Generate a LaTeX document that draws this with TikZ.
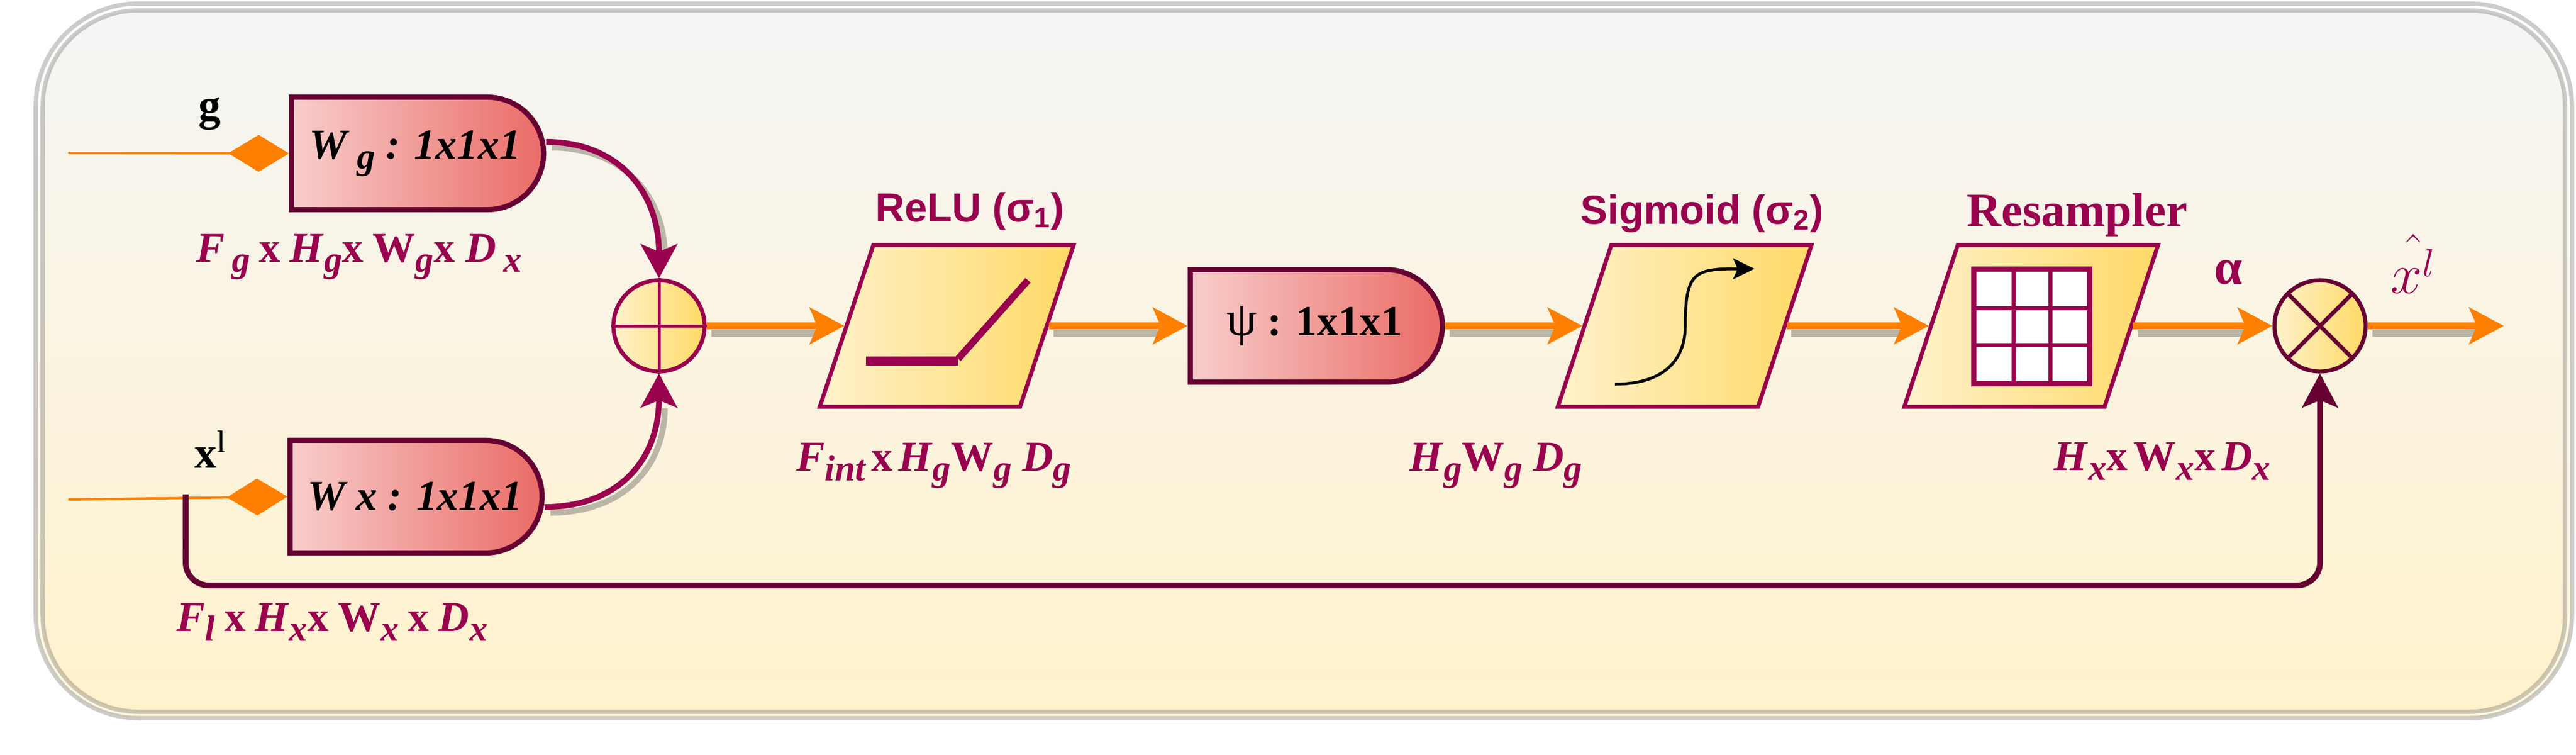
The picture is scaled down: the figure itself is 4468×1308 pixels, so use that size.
\documentclass[tikz,border=0pt]{standalone}
\usepackage{fontspec}
\usepackage{graphicx}
\setmainfont{Liberation Serif}
\setsansfont{Liberation Sans}
\usetikzlibrary{arrows.meta,shapes.misc,shapes.geometric}
\definecolor{gapfill}{HTML}{FFF8E2}
\definecolor{pagetop}{HTML}{F5F5F5}
\definecolor{pagebot}{HTML}{FFF2CC}
\definecolor{shadowgray}{HTML}{BAB6A8}
\definecolor{redlight}{HTML}{F8CECC}
\definecolor{reddeep}{HTML}{EA6B66}
\definecolor{yellowdeep}{HTML}{FFD966}
\definecolor{purplemain}{HTML}{99004D}
\definecolor{purpledark}{HTML}{660033}
\definecolor{flow}{HTML}{FF8000}
\newcommand{\sbs}[1]{\raisebox{-0.17cm}{\fontsize{18pt}{18pt}\selectfont\itshape #1}}
\newcommand{\gapx}{\hspace{0.16cm}}
\newcommand{\gapy}{\hspace{0.1cm}}
\tikzset{
  gatebox/.style={rounded rectangle,rounded rectangle west arc=none,draw=purpledark,line width=0.09cm,
    left color=redlight,right color=reddeep,minimum width=4.37cm,minimum height=1.95cm,inner sep=0pt,
    font=\fontsize{21pt}{25pt}\selectfont\bfseries},
  paragbox/.style={trapezium,trapezium left angle=70,trapezium right angle=110,trapezium stretches=true,
    draw=purplemain,line width=0.07cm,left color=pagebot,right color=yellowdeep,
    minimum width=4.4cm,minimum height=2.8cm,inner sep=2pt},
  opcircle/.style={circle,line width=0.07cm,left color=pagebot,right color=yellowdeep,
    minimum size=1.58cm,inner sep=0pt},
  flowline/.style={line width=0.12cm,draw=flow,-{Stealth[length=0.6cm,width=0.63cm,inset=0.13cm,flow]}},
  flowshadow/.style={line width=0.12cm,draw=shadowgray,shorten >=0.5cm,transform canvas={shift={(8,13)}}},
  gateline/.style={line width=0.1cm,draw=purplemain,-{Stealth[length=0.59cm,width=0.63cm,inset=0.13cm,purplemain]}},
  gateshadow/.style={line width=0.1cm,draw=shadowgray,shorten >=0.5cm,transform canvas={shift={(10,10)}}},
  inputline/.style={line width=0.04cm,line cap=round,draw=flow,-{Diamond[length=1.05cm,width=0.64cm,flow]}},
  lbltext/.style={text=purplemain,anchor=base west,inner sep=0pt,font=\fontsize{21pt}{24pt}\selectfont\bfseries},
  toptext/.style={text=purplemain,anchor=base west,inner sep=0pt,font=\fontsize{20pt}{24pt}\selectfont\bfseries\sffamily},
  sigtext/.style={text=black,anchor=base west,inner sep=0pt,font=\fontsize{22pt}{26pt}\selectfont\bfseries},
}
\begin{document}
\begin{tikzpicture}[x=0.01cm,y=-0.01cm]
\useasboundingbox (0,0) rectangle (4468,1308);

% Drawing frame
\draw [draw=black,draw opacity=0.2,line width=0.075cm,rounded corners=1.78cm,top color=white,bottom color=gapfill] (62,6) rectangle (4461,1245);
\draw [draw=black,draw opacity=0.2,line width=0.075cm,rounded corners=1.66cm,top color=pagetop,bottom color=pagebot] (74,18) rectangle (4449,1234);

% Drawing gates
\node [gatebox] (wg) at (720,266) {\textit{W}\,\sbs{g} \textit{: 1x1x1}};
\node [gatebox] (wx) at (720,861) {\textit{W x : 1x1x1}};
\node [gatebox] (psi) at (2280,565) {{\fontsize{24pt}{25pt}\selectfont\mdseries ψ} : 1x1x1};

% Drawing operators
\node [opcircle,draw=purplemain] (add) at (1143,565) {};
\node [opcircle,draw=purpledark] (mul) at (4024,565) {};
\draw [line width=0.05cm,draw=purplemain] (add.north) -- (add.south);
\draw [line width=0.05cm,draw=purplemain] (add.west) -- (add.east);
\draw [line width=0.07cm,draw=purpledark] (mul.north west) -- (mul.south east);
\draw [line width=0.07cm,draw=purpledark] (mul.north east) -- (mul.south west);

% Drawing activation blocks
\node [paragbox] (relu) at (1642,565) {};
\node [paragbox] (sigm) at (2922,565) {};
\node [paragbox] (resamp) at (3523,565) {};

% Drawing relu curve
\draw [line width=0.16cm,draw=purplemain] (1502,626) -- (1662,626);
\draw [line width=0.12cm,draw=purplemain] (1662,622) -- (1783,486);

% Drawing sigmoid curve
\draw [line width=0.05cm,-{Stealth[length=0.37cm,width=0.36cm,inset=0.08cm]}] (2801,666) .. controls (2890,666) and (2923,620) .. (2923,566) .. controls (2923,470) and (2940,466) .. (3043,466);

% Drawing resampler grid
\draw [line width=0.09cm,draw=purplemain,fill=white] (3423,466) rectangle (3624,665);
\draw [line width=0.07cm,draw=purplemain] (3492,466) -- (3492,665);
\draw [line width=0.07cm,draw=purplemain] (3556,466) -- (3556,665);
\draw [line width=0.07cm,draw=purplemain] (3423,534) -- (3624,534);
\draw [line width=0.07cm,draw=purplemain] (3423,598) -- (3624,598);

% Drawing inputs
\coordinate (gin) at (120,265);
\coordinate (xin) at (120,866);
\draw [inputline] (gin) -- (wg.west);
\draw [inputline] (xin) -- (wx.west);

% Drawing gate connectors
\draw [gateshadow] ([yshift=0.2cm]wg.east) .. controls (1070,246) and (1143,330) .. (add.north);
\draw [gateshadow] ([yshift=-0.18cm]wx.east) .. controls (1070,879) and (1143,800) .. (add.south);
\draw [gateline] ([yshift=0.2cm]wg.east) .. controls (1070,246) and (1143,330) .. (add.north);
\draw [gateline] ([yshift=-0.18cm]wx.east) .. controls (1070,879) and (1143,800) .. (add.south);

% Drawing flow arrows
\coordinate (out) at (4343,565);
\draw [flowshadow] (add) -- (relu);
\draw [flowshadow] (relu) -- (psi);
\draw [flowshadow] (psi) -- (sigm);
\draw [flowshadow] (sigm) -- (resamp);
\draw [flowshadow] (resamp) -- (mul);
\draw [flowshadow] (mul) -- (out);
\draw [flowline] (add) -- (relu);
\draw [flowline] (relu) -- (psi);
\draw [flowline] (psi) -- (sigm);
\draw [flowline] (sigm) -- (resamp);
\draw [flowline] (resamp) -- (mul);
\draw [flowline] (mul) -- (out);

% Drawing feedback line
\coordinate (fbstart) at (322,857);
\coordinate (fbturn) at (322,1015);
\draw [line width=0.1cm,draw=purpledark,rounded corners=0.4cm,-{Stealth[length=0.59cm,width=0.62cm,inset=0.13cm,purpledark]}] (fbstart) -- (fbturn) -- (fbturn -| mul.south) -- (mul.south);

% Marking labels
\node [sigtext] (gname) at (344,208) {g};
\node [sigtext] (xname) at (337,811) {x\textsuperscript{\mdseries l}};
\node [lbltext] (lblg) at (340,454) {\textit{F}\,\sbs{g}\gapx x\gapx \textit{H}\sbs{g}x\gapx W\sbs{g}x \textit{D}\,\sbs{x}};
\node [lbltext] (lblx) at (306,1094) {\textit{F}\sbs{l}\gapx x\gapx \textit{H}\sbs{x}x\gapx W\sbs{x}\gapx x\gapx \textit{D}\sbs{x}};
\node [lbltext] (lblrelu) at (1381,816) {\textit{F}\sbs{int}\gapy x\gapy \textit{H}\sbs{g}W\sbs{g} \textit{D}\sbs{g}};
\node [lbltext] (lblpsi) at (2444,816) {\textit{H}\sbs{g}W\sbs{g} \textit{D}\sbs{g}};
\node [lbltext] (lblres) at (3562,815) {\textit{H}\sbs{x}x\gapy W\sbs{x}x\gapy \textit{D}\sbs{x}};
\node [toptext] (namerelu) at (1518,384) {ReLU (σ\textsubscript{1})};
\node [toptext] (namesigm) at (2741,388) {Sigmoid (σ\textsubscript{2})};
\node [lbltext,font=\fontsize{23.6pt}{28pt}\selectfont\bfseries] (nameres) at (3411,392) {Resampler};
\node [lbltext,font=\fontsize{25pt}{28pt}\selectfont\bfseries] (namealpha) at (3840,492) {α};
\node [lbltext,font=\fontsize{22pt}{26pt}\selectfont] (nameout) at (4146,508) {\scalebox{1.35}{$\hat{x^{l}}$}};
\end{tikzpicture}
\end{document}
